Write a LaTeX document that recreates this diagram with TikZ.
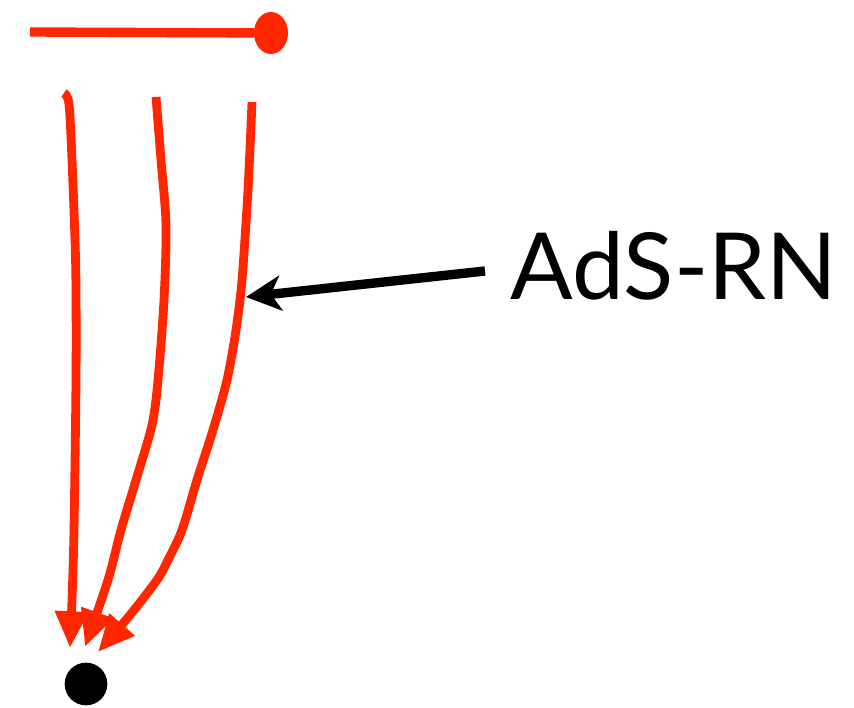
\documentclass[tikz,border=0pt]{standalone}
\usepackage{fontspec}
\usepackage{xcolor}
\usepackage{tikz}
\usetikzlibrary{arrows.meta,positioning,shapes.geometric}
\newfontfamily\labelfont{Lato}
\definecolor{FlowRed}{RGB}{255,38,0}

\begin{document}
\begin{tikzpicture}[x=0.03cm,y=-0.03cm,
    flow/.style={FlowRed, line width=7.5pt, -{Triangle[length=1.1cm,width=0.95cm]}},
    pointer/.style={black, line width=8pt, -{Stealth[length=1.05cm,width=1.05cm,inset=0.3cm]}}]
        \useasboundingbox (0,0) rectangle (854,708);
        % boundary segment with its endpoint
        \node[ellipse, fill=FlowRed, minimum width=1.02cm, minimum height=1.26cm, inner sep=0pt] (uv) at (271,33) {};
        \coordinate (left) at (30,32);
        \draw[FlowRed, line width=8pt] (left) -- (uv);
        % fixed point in the infrared
        \node[circle, fill=black, minimum size=1.28cm, inner sep=0pt] (ir) at (86,684) {};
        % flows
        \coordinate (s1) at (64,93);
        \coordinate (s2) at (156,97);
        \coordinate (s3) at (252,102);
        \coordinate (e1) at (70,648);
        \coordinate (e2) at (85,647);
        \coordinate (e3) at (98,652);
        \draw[flow] plot[smooth] coordinates {(s1) (69,104) (72,160) (75,240) (76,290) (76,380) (74,530) (72,600) (e1)};
        \draw[flow] plot[smooth] coordinates {(s2) (161,160) (166,225) (164,300) (158,380) (152,425) (136,480) (121,530) (108,580) (e2)};
        \draw[flow] plot[smooth] coordinates {(s3) (248,190) (242,280) (236,330) (227,380) (213,430) (197,480) (182,530) (168,560) (157,580) (130,615) (e3)};
        % label
        \node[anchor=base, inner sep=0pt, font=\labelfont\fontsize{79}{88}\selectfont] (lbl) at (674,300) {AdS-RN};
        \coordinate (tail) at (485,271);
        \coordinate (hit) at (246,297);
        \draw[pointer] (tail) -- (hit);
      \end{tikzpicture}
\end{document}
